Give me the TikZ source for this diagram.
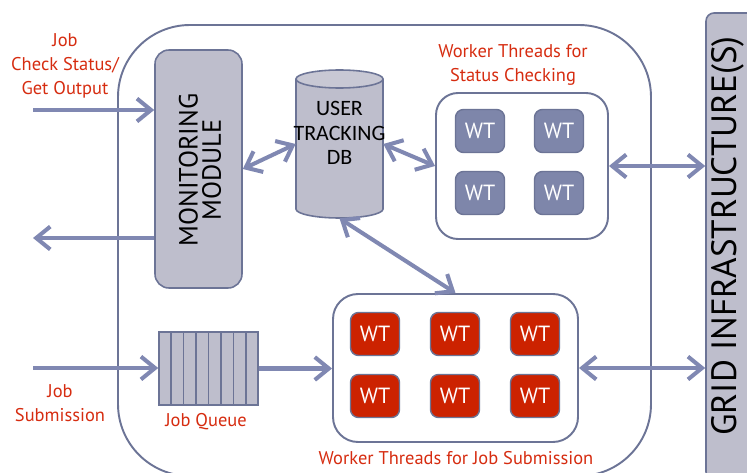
\documentclass[tikz,border=0pt]{standalone}
\usepackage{fontspec}
\setmainfont{PT Sans}
\newfontfamily\dbfont{Carlito}
\usetikzlibrary{arrows.meta,fit,calc}

\definecolor{edge}{RGB}{108,116,150}
\definecolor{arrowc}{RGB}{128,136,178}
\definecolor{panel}{RGB}{190,190,204}
\definecolor{wtblue}{RGB}{126,134,170}
\definecolor{wtred}{RGB}{204,34,0}
\definecolor{labelred}{RGB}{214,44,16}

\tikzset{
  shell/.style={draw=edge, line width=1.1pt, rounded corners=1.44cm, inner sep=0pt},
  pane/.style={draw=edge, fill=panel, line width=0.9pt, inner sep=0pt},
  pool/.style={draw=edge, fill=white, line width=1.1pt, inner sep=0pt},
  wtbase/.style={draw=edge, line width=0.8pt, minimum width=0.98cm, minimum height=0.86cm,
    rounded corners=0.16cm, text=white, inner sep=0pt, font=\fontsize{12.5}{14}\selectfont},
  wtb/.style={wtbase, fill=wtblue},
  wtr/.style={wtbase, fill=wtred},
  tip/.tip={Straight Barb[length=8pt,width=13pt]},
  flow/.style={draw=arrowc, line width=2.3pt, -tip},
  twoway/.style={draw=arrowc, line width=2.3pt, tip-tip},
  note/.style={text=labelred, align=center, inner sep=0pt,
    font=\fontsize{10.5}{13.5}\selectfont},
}

\begin{document}
\begin{tikzpicture}[x=0.02cm,y=-0.02cm]
\useasboundingbox (0,0) rectangle (747,473);
\clip (0,0) rectangle (747,473);

% outer service shell, running past the bottom edge
\node[shell, fit={(118,25)(651,476)}] (shell) {};

% grid infrastructure bar on the right
\node[pane, rounded corners=0.16cm, fit={(706,13)(760,480)}] (grid) {};
\node at (728,236) {\rotatebox{90}{\fontsize{20}{24}\selectfont GRID INFRASTRUCTURE(S)}};

% monitoring module
\node[pane, rounded corners=0.28cm, fit={(155,50)(242,288)}] (mon) {};
\node at (203,170) {\rotatebox{90}{\begin{tabular}{c}\fontsize{15}{17}\selectfont MONITORING\\[-1pt]\fontsize{15}{17}\selectfont MODULE\end{tabular}}};

% user tracking database (cylinder)
\node[inner sep=0pt, fit={(296,70)(383,218)}] (db) {};
\path[fill=panel] (296,79) -- (296,209)
  arc[start angle=180, end angle=0, x radius=43.5, y radius=9] -- (383,79) -- cycle;
\draw[edge, line width=0.9pt] (296,79) -- (296,209)
  arc[start angle=180, end angle=0, x radius=43.5, y radius=9] -- (383,79);
\draw[edge, line width=0.9pt, fill=panel!85!white] (339.5,79) ellipse [x radius=43.5, y radius=9];
\node[align=center, font=\dbfont\fontsize{12.5}{14}\selectfont] (dbtext) at (339.5,133)
  {USER\\TRACKING\\DB};

% status-checking worker pool
\node[pool, rounded corners=0.44cm, fit={(436,93)(608,239)}] (status) {};
\node[wtb] (s1) at (480,131) {WT};
\node[wtb] (s2) at (559,131) {WT};
\node[wtb] (s3) at (480,193) {WT};
\node[wtb] (s4) at (559,193) {WT};
\node[note] (statuslbl) at (513,65) {Worker Threads for\\Status Checking};

% job-submission worker pool
\node[pool, rounded corners=0.5cm, fit={(333,294)(578,442)}] (jobs) {};
\node[wtr] (j1) at (375,334) {WT};
\node[wtr] (j2) at (455,334) {WT};
\node[wtr] (j3) at (535,334) {WT};
\node[wtr] (j4) at (375,396) {WT};
\node[wtr] (j5) at (455,396) {WT};
\node[wtr] (j6) at (535,396) {WT};
\node[note] (jobslbl) at (456,458) {Worker Threads for Job Submission};

% job queue
\node[pane, fit={(159,332)(258,405)}] (queue) {};
\foreach \i in {1,...,7} {
  \draw[edge, line width=0.9pt] ($(queue.north west)!\i/8!(queue.north east)$)
    -- ($(queue.south west)!\i/8!(queue.south east)$);
}
\node[note] (queuelbl) at (206,422) {Job Queue};

% external requests
\node[note] (checklbl) at (65,66) {Job\\Check Status/\\Get Output};
\node[note] (submitlbl) at (60,403) {Job\\Submission};
\coordinate (in1) at (33,110);
\coordinate (out1) at (33,238);
\coordinate (in2) at (33,368);

% connectors
\draw[flow] (in1) -- (in1 -| mon.west);
\draw[flow] (out1 -| mon.west) -- (out1);
\draw[twoway] (mon.east) -- (db.west);
\draw[twoway] (db.east) -- (status.west);
\draw[twoway] (db.south) -- (jobs.north);
\draw[twoway] (status.east) -- (status.east -| grid.west);
\draw[twoway] (jobs.east) -- (jobs.east -| grid.west);
\draw[flow] (in2) -- (in2 -| queue.west);
\draw[flow] (queue.east) -- (queue.east -| jobs.west);
\end{tikzpicture}
\end{document}
